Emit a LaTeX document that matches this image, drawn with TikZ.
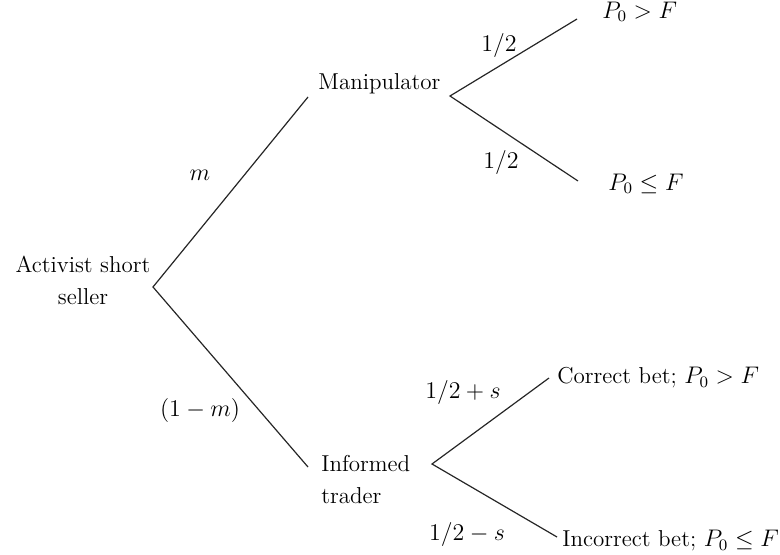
\documentclass[tikz,border=0pt]{standalone}
\usepackage{tikz}
\usepackage{amsmath}
\usetikzlibrary{positioning}
\tikzset{
  state/.style={align=center, inner sep=0pt, font=\fontsize{11.5}{16}\selectfont},
  leaf/.style={anchor=west, inner sep=0pt, font=\fontsize{11.5}{14}\selectfont},
  prob/.style={inner sep=0pt, font=\fontsize{11.5}{14}\selectfont},
  branch/.style={line width=0.6pt, color=black!85}
}

\begin{document}
\begin{tikzpicture}[x=0.5pt, y=-0.5pt]
  \useasboundingbox (0,0) rectangle (780,555);

  % decision points
  \coordinate (root) at (153,287);
  \coordinate (mfork) at (450,96);
  \coordinate (ifork) at (432,464);
  \coordinate (mend) at (308,97);
  \coordinate (iend) at (308,467);
  \coordinate (hi1) at (577,19);
  \coordinate (lo1) at (578,181);
  \coordinate (hi2) at (549,378);
  \coordinate (lo2) at (557,537);

  \node[state] (seller) at (83,280) {Activist short\\seller};
  \node[state, anchor=west] (manip) at (318,84) {Manipulator};
  \node[state, anchor=west, align=left] (inform) at (321,480) {Informed\\trader};

  \node[leaf] (up1) at (602,12) {$P_0 > F$};
  \node[leaf] (dn1) at (608,184) {$P_0 \le F$};
  \node[leaf] (up2) at (557,378) {Correct bet; $P_0 > F$};
  \node[leaf] (dn2) at (562,541) {Incorrect bet; $P_0 \le F$};

  \draw[branch] (mend) -- (root) -- (iend);
  \draw[branch] (hi1) -- (mfork) -- (lo1);
  \draw[branch] (hi2) -- (ifork) -- (lo2);

  \node[prob] (pm) at (200,175) {$m$};
  \node[prob] (pnm) at (200,410) {$(1-m)$};
  \node[prob] (pa) at (499,46) {$1/2$};
  \node[prob] (pb) at (501,163) {$1/2$};
  \node[prob] (pc) at (463,392) {$1/2+s$};
  \node[prob] (pd) at (467,534) {$1/2-s$};
\end{tikzpicture}
\end{document}
